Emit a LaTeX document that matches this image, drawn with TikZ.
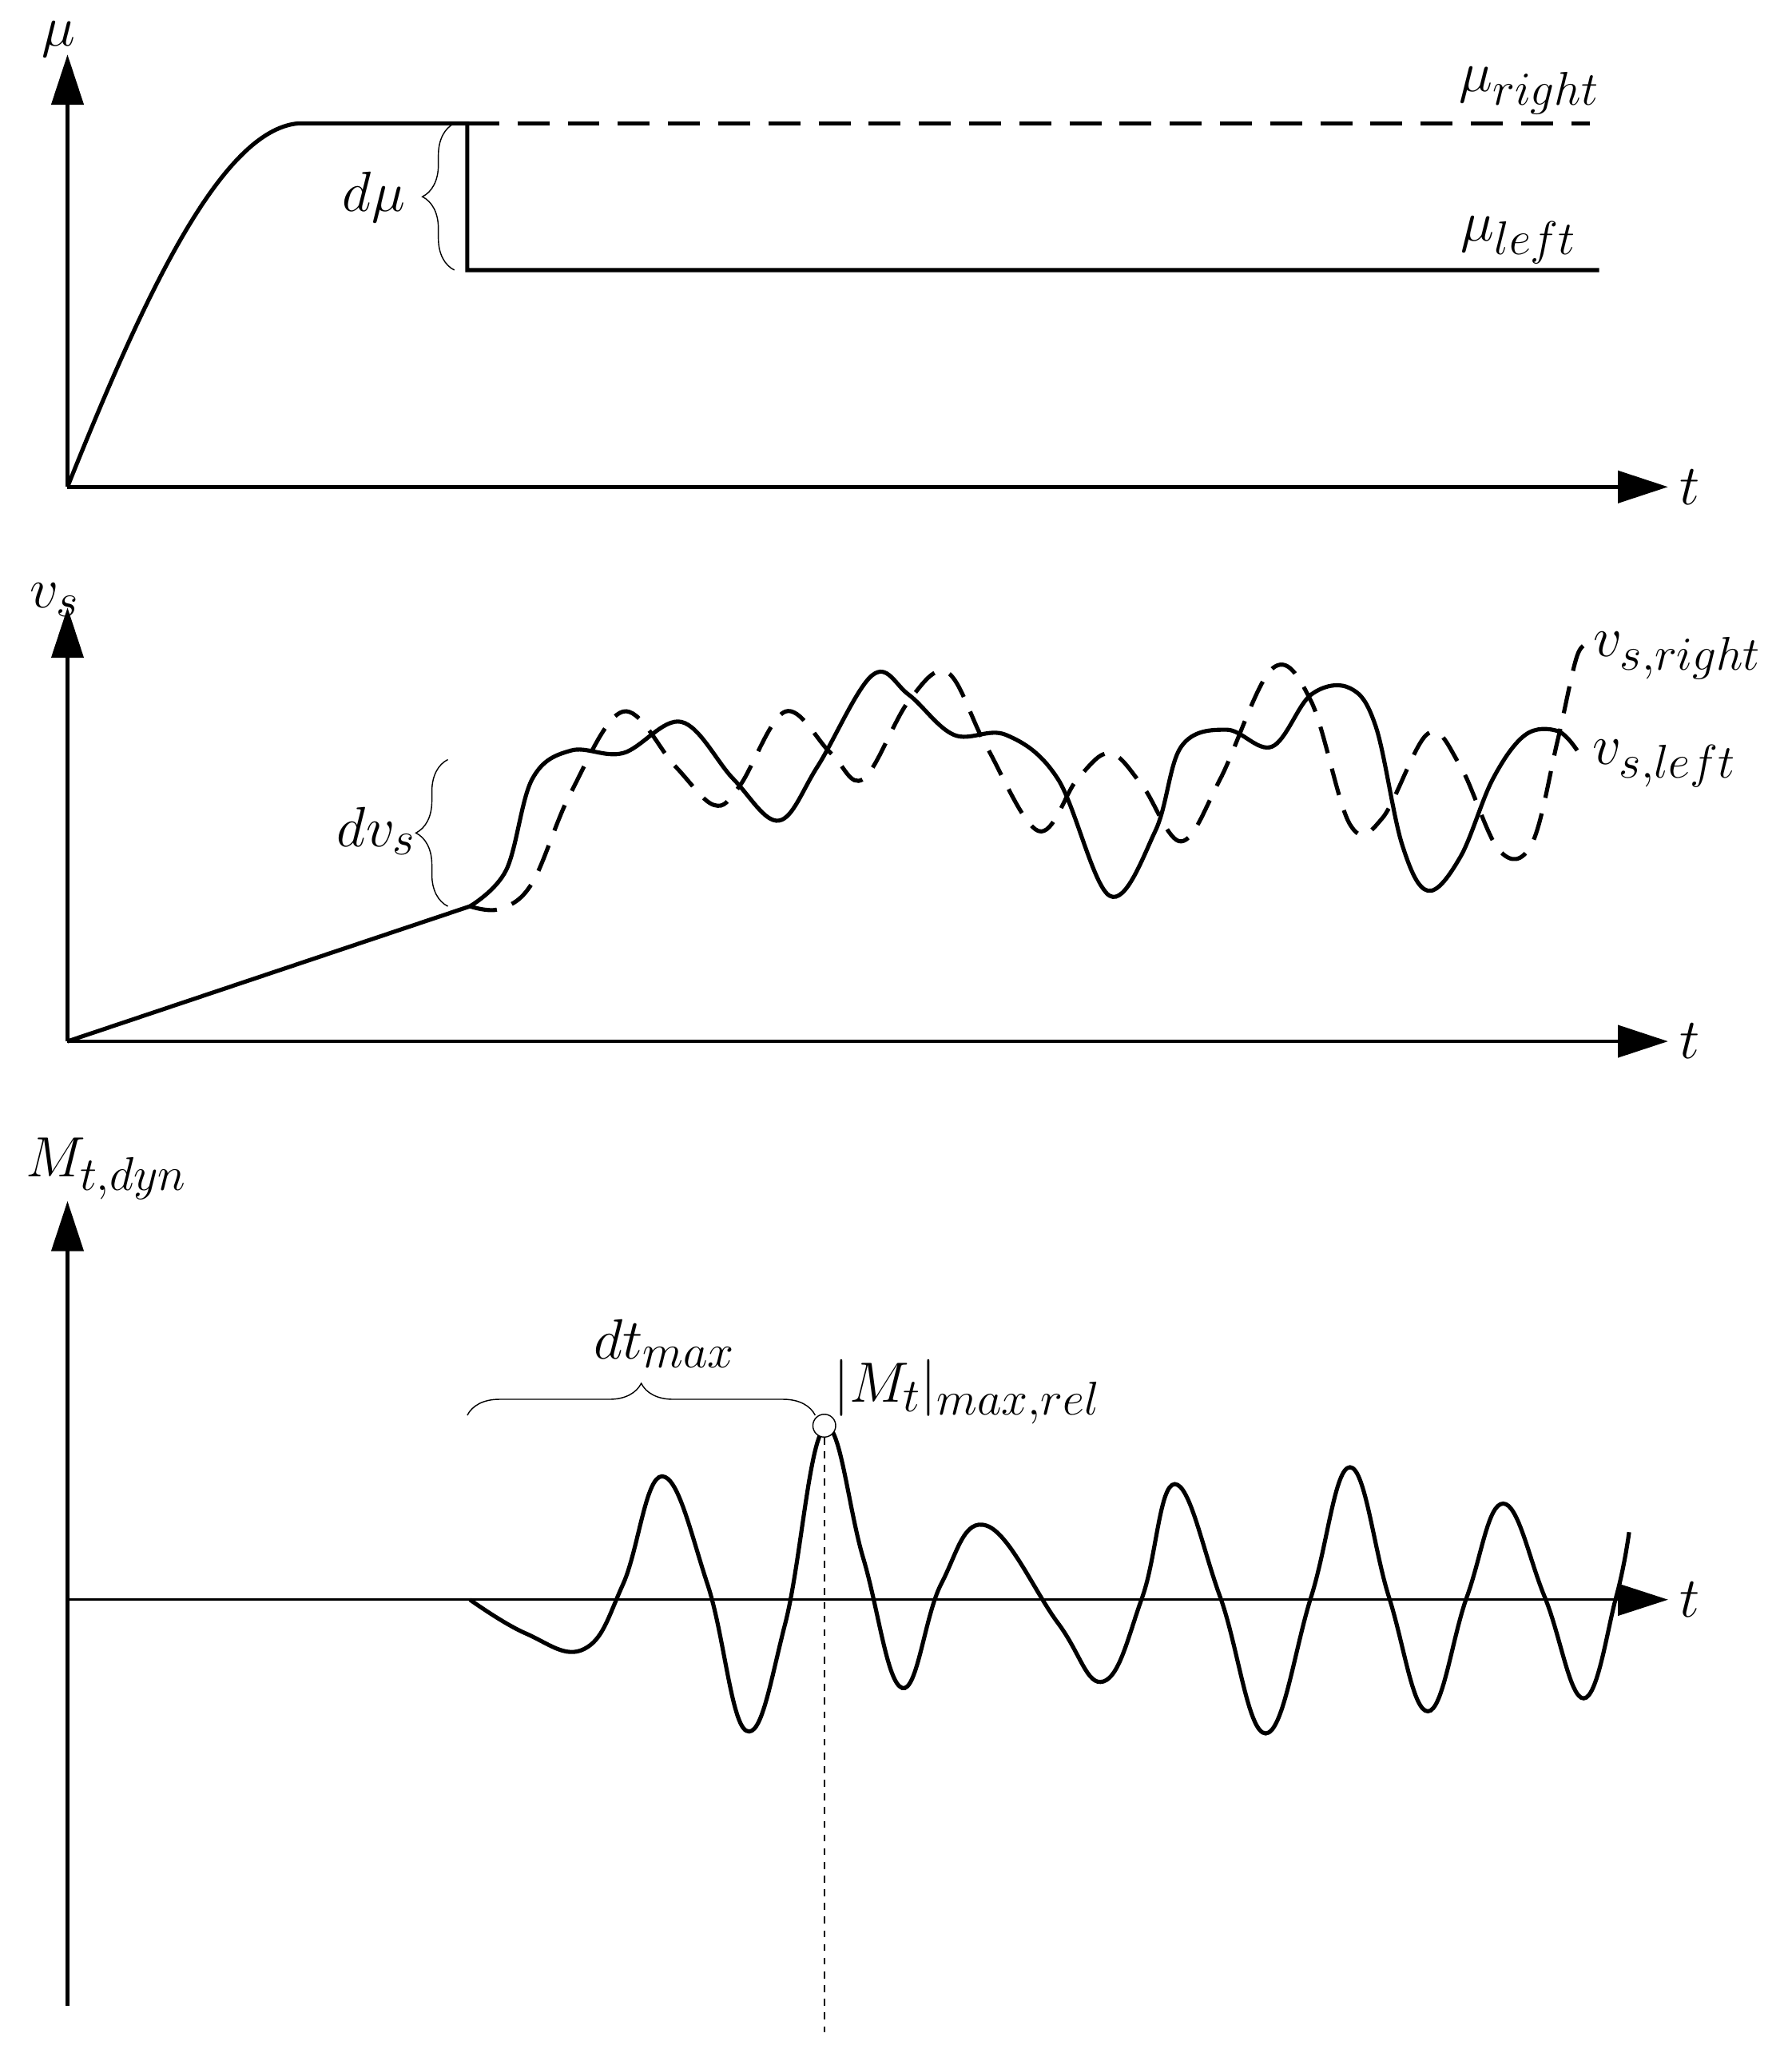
\documentclass[tikz,border=0pt]{standalone}
\usetikzlibrary{arrows.meta,decorations.pathreplacing}
\begin{document}
\begin{tikzpicture}[x=0.02cm,y=-0.02cm,
  ax/.style={line width=1.6pt,-{Triangle[length=22pt,width=14pt]}},
  crv/.style={line width=1.8pt},
  lbl/.style={font=\fontsize{30pt}{36pt}\selectfont},
  br/.style={decorate,decoration={brace,amplitude=14pt},line width=0.5pt}]
\useasboundingbox (0,0) rectangle (1380,1575);
% Panel 1
\coordinate (o1) at (52,375);
\coordinate (y1) at (52,42);
\coordinate (x1) at (1285,375);
\draw[ax] (o1) -- (y1);
\draw[ax] (o1) -- (x1);
\coordinate (p1) at (230,95);
\coordinate (p2) at (360,95);
\coordinate (p3) at (360,208);
\coordinate (p4) at (1225,95);
\coordinate (p5) at (1232,208);
\draw[crv] (o1) .. controls (110,230) and (170,100) .. (p1) -- (p2) -- (p3) -- (p5);
\draw[crv,dashed,dash pattern=on 14pt off 8pt] (p2) -- (p4);
\draw[br] (350,208) -- (350,95);
\node[lbl] (mu) at (45,30) {$\mu$};
\node[lbl] (mur) at (1178,70) {$\mu_{right}$};
\node[lbl] (mul) at (1170,185) {$\mu_{left}$};
\node[lbl] (t1) at (1302,375) {$t$};
\node[lbl] (dmu) at (288,152) {$d\mu$};
% Panel 2
\coordinate (o2) at (52,802);
\coordinate (y2) at (52,468);
\coordinate (x2) at (1285,802);
\draw[ax] (o2) -- (y2);
\draw[ax] (o2) -- (x2);
\coordinate (q0) at (362,698);
\draw[crv] (o2) -- (q0);
\draw[crv] plot[smooth,tension=0.6] coordinates {(362,698) (390,670) (410,600) (440,578) (480,580) (525,556) (565,600) (600,632) (630,590) (672,520) (700,535) (735,566) (775,566) (815,600) (855,690) (890,640) (910,575) (945,562) (980,575) (1010,535) (1040,530) (1060,560) (1080,650) (1100,686) (1125,660) (1150,600) (1175,566) (1200,563) (1215,578)};
\draw[crv,dashed,dash pattern=on 12pt off 7pt] plot[smooth,tension=0.6] coordinates {(362,698) (385,700) (410,680) (440,610) (480,548) (520,590) (550,620) (570,605) (605,548) (640,580) (665,600) (700,540) (730,518) (760,575) (800,640) (830,600) (855,580) (880,605) (910,648) (940,600) (980,515) (1010,540) (1040,635) (1065,630) (1100,565) (1125,590) (1155,655) (1180,650) (1200,570) (1215,505) (1225,497)};
\draw[br] (345,698) -- (345,585);
\node[lbl] (vs) at (42,462) {$v_s$};
\node[lbl] (vsr) at (1292,505) {$v_{s,right}$};
\node[lbl] (vsl) at (1282,588) {$v_{s,left}$};
\node[lbl] (t2) at (1302,802) {$t$};
\node[lbl] (dvs) at (290,640) {$dv_s$};
% Panel 3
\coordinate (o3) at (52,1232);
\coordinate (yb) at (52,1545);
\coordinate (y3) at (52,925);
\coordinate (x3) at (1285,1232);
\draw[ax] (yb) -- (y3);
\draw[line width=1pt,-{Triangle[length=22pt,width=14pt]}] (o3) -- (x3);
\draw[crv] plot[smooth,tension=0.7] coordinates {(362,1232) (405,1258) (450,1270) (480,1220) (510,1137) (545,1220) (575,1333) (605,1250) (635,1100) (665,1200) (695,1300) (725,1220) (760,1175) (815,1250) (850,1295) (880,1230) (905,1143) (940,1230) (975,1335) (1010,1230) (1040,1130) (1070,1230) (1100,1318) (1130,1230) (1158,1158) (1190,1230) (1220,1308) (1245,1230) (1255,1180)};
\node[circle,draw,line width=0.5pt,fill=white,inner sep=0pt,minimum size=10pt] (pk) at (635,1098) {};
\coordinate (vb) at (635,1565);
\draw[line width=0.6pt,dashed] (pk) -- (vb);
\draw[br] (360,1090) -- (628,1090);
\node[lbl] (mt) at (82,900) {$M_{t,dyn}$};
\node[lbl] (t3) at (1302,1232) {$t$};
\node[lbl] (dt) at (512,1035) {$dt_{max}$};
\node[lbl] (mmax) at (745,1072) {$|M_t|_{max,rel}$};
\end{tikzpicture}
\end{document}
